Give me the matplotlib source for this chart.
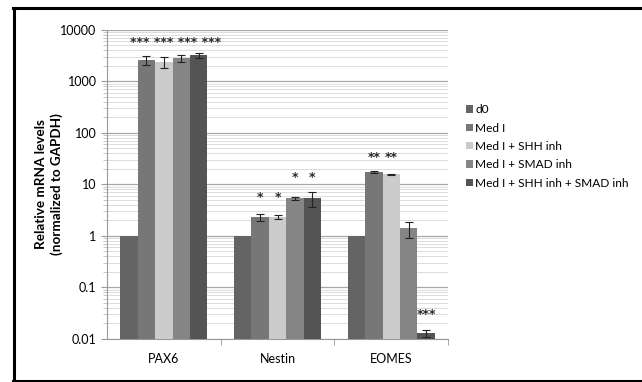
import matplotlib
matplotlib.use("Agg")
import matplotlib.pyplot as plt
import numpy as np
from matplotlib.lines import Line2D
from matplotlib.ticker import FixedLocator, LogLocator, NullFormatter

plt.rcParams["font.family"] = ["Lato", "DejaVu Sans"]

# ==========================================================
# DATA
# ==========================================================

genes = ["PAX6", "Nestin", "EOMES"]

conditions = [
    "d0",
    "Med I",
    "Med I + SHH inh",
    "Med I + SMAD inh",
    "Med I + SHH inh + SMAD inh",
]

colors = ["#646464", "#777777", "#cbcbcb", "#858585", "#545454"]

# rows = condition, columns = gene
means = [
    [1, 1, 1],
    [2600, 2.3, 17.5],
    [2400, 2.3, 15.8],
    [2800, 5.4, 1.4],
    [3200, 5.5, 0.013],
]

errors = [
    [0, 0, 0],
    [500, 0.35, 0.5],
    [550, 0.2, 0.3],
    [400, 0.3, 0.5],
    [350, 1.8, 0.002],
]

stars = [
    ["", "", ""],
    ["***", "*", "**"],
    ["***", "*", "**"],
    ["***", "*", ""],
    ["***", "*", "***"],
]

star_y = [
    [None, None, None],
    [5800, 5.6, 33],
    [5800, 5.6, 33],
    [5800, 13.5, None],
    [5800, 13.5, 0.03],
]

BASE = 0.01

# ==========================================================
# FIGURE
# ==========================================================

fig = plt.figure(figsize=(6.42, 3.82), dpi=100)
ax = fig.add_axes([0.1667, 0.1126, 0.5313, 0.8089])

x = np.arange(len(genes))
width = 0.153

star_kw = dict(ha="center", va="center", fontsize=9, fontweight="bold",
               color="#2a2a2a", family="DejaVu Sans", zorder=5)

for i, cond in enumerate(conditions):
    pos = x + (i - 2) * width
    heights = [m - BASE for m in means[i]]
    err = [e if e > 0 else np.nan for e in errors[i]]
    ax.bar(pos, heights, width, bottom=BASE, color=colors[i],
           label=cond, zorder=3)
    ax.errorbar(pos, means[i], yerr=err, fmt="none", ecolor="#222222",
                elinewidth=0.8, capsize=3, capthick=0.8, zorder=4)
    for j in range(1, len(genes)):
        if stars[i][j]:
            ax.text(pos[j], star_y[i][j], stars[i][j], **star_kw)

# PAX6 stars written as one row, like the original
pax_stars = " ".join(stars[i][0] for i in range(len(conditions)) if stars[i][0])
pax_pos = np.mean([(i - 2) * width for i in range(len(conditions)) if stars[i][0]])
ax.text(pax_pos + 0.03, star_y[1][0], pax_stars, **star_kw)

ax.set_yscale("log")
ax.set_ylim(0.01, 10000)
ax.set_xlim(-0.5, 2.5)

yticks = [0.01, 0.1, 1, 10, 100, 1000, 10000]
ax.yaxis.set_major_locator(FixedLocator(yticks))
ax.set_yticklabels(["0.01", "0.1", "1", "10", "100", "1000", "10000"])
ax.yaxis.set_minor_locator(LogLocator(base=10, subs=np.arange(2, 10)))
ax.yaxis.set_minor_formatter(NullFormatter())

ax.grid(True, which="major", axis="y", color="#a8a8a8", linewidth=0.9,
        zorder=0)
ax.grid(True, which="minor", axis="y", color="#dcdcdc", linewidth=0.7,
        zorder=0)

ax.set_xticks(x)
ax.set_xticklabels(genes)
ax.tick_params(axis="x", which="major", length=0, pad=10, labelsize=9)
ax.set_xticks([0.5, 1.5, 2.5], minor=True)
ax.tick_params(axis="x", which="minor", length=4, color="#999999")
ax.tick_params(axis="y", which="major", length=4, color="#999999",
               labelsize=9)
ax.tick_params(axis="y", which="minor", length=3, color="#bbbbbb")

for s in ["top", "right"]:
    ax.spines[s].set_visible(False)
ax.spines["left"].set_color("#999999")
ax.spines["bottom"].set_color("#999999")

ax.set_ylabel("Relative mRNA levels\n(normalized to GAPDH)",
              fontsize=9.7, fontweight="bold", linespacing=1.35)
ax.yaxis.set_label_coords(-0.128, 0.5)

ax.legend(loc="upper left", bbox_to_anchor=(0.718, 0.74),
          bbox_transform=fig.transFigure, frameon=False, fontsize=8.6,
          handlelength=0.6, handleheight=0.6, handletextpad=0.2,
          labelspacing=0.62, borderaxespad=0)

# outer frame
fig.add_artist(Line2D([0.022, 0.022], [0.003, 0.98], color="black",
                      linewidth=2.2, transform=fig.transFigure))
fig.add_artist(Line2D([0.021, 1.0], [0.98, 0.98], color="black",
                      linewidth=2.2, transform=fig.transFigure))
fig.add_artist(Line2D([0.021, 1.0], [0.003, 0.003], color="black",
                      linewidth=2.2, transform=fig.transFigure))

fig.savefig("out.png", dpi=100)
